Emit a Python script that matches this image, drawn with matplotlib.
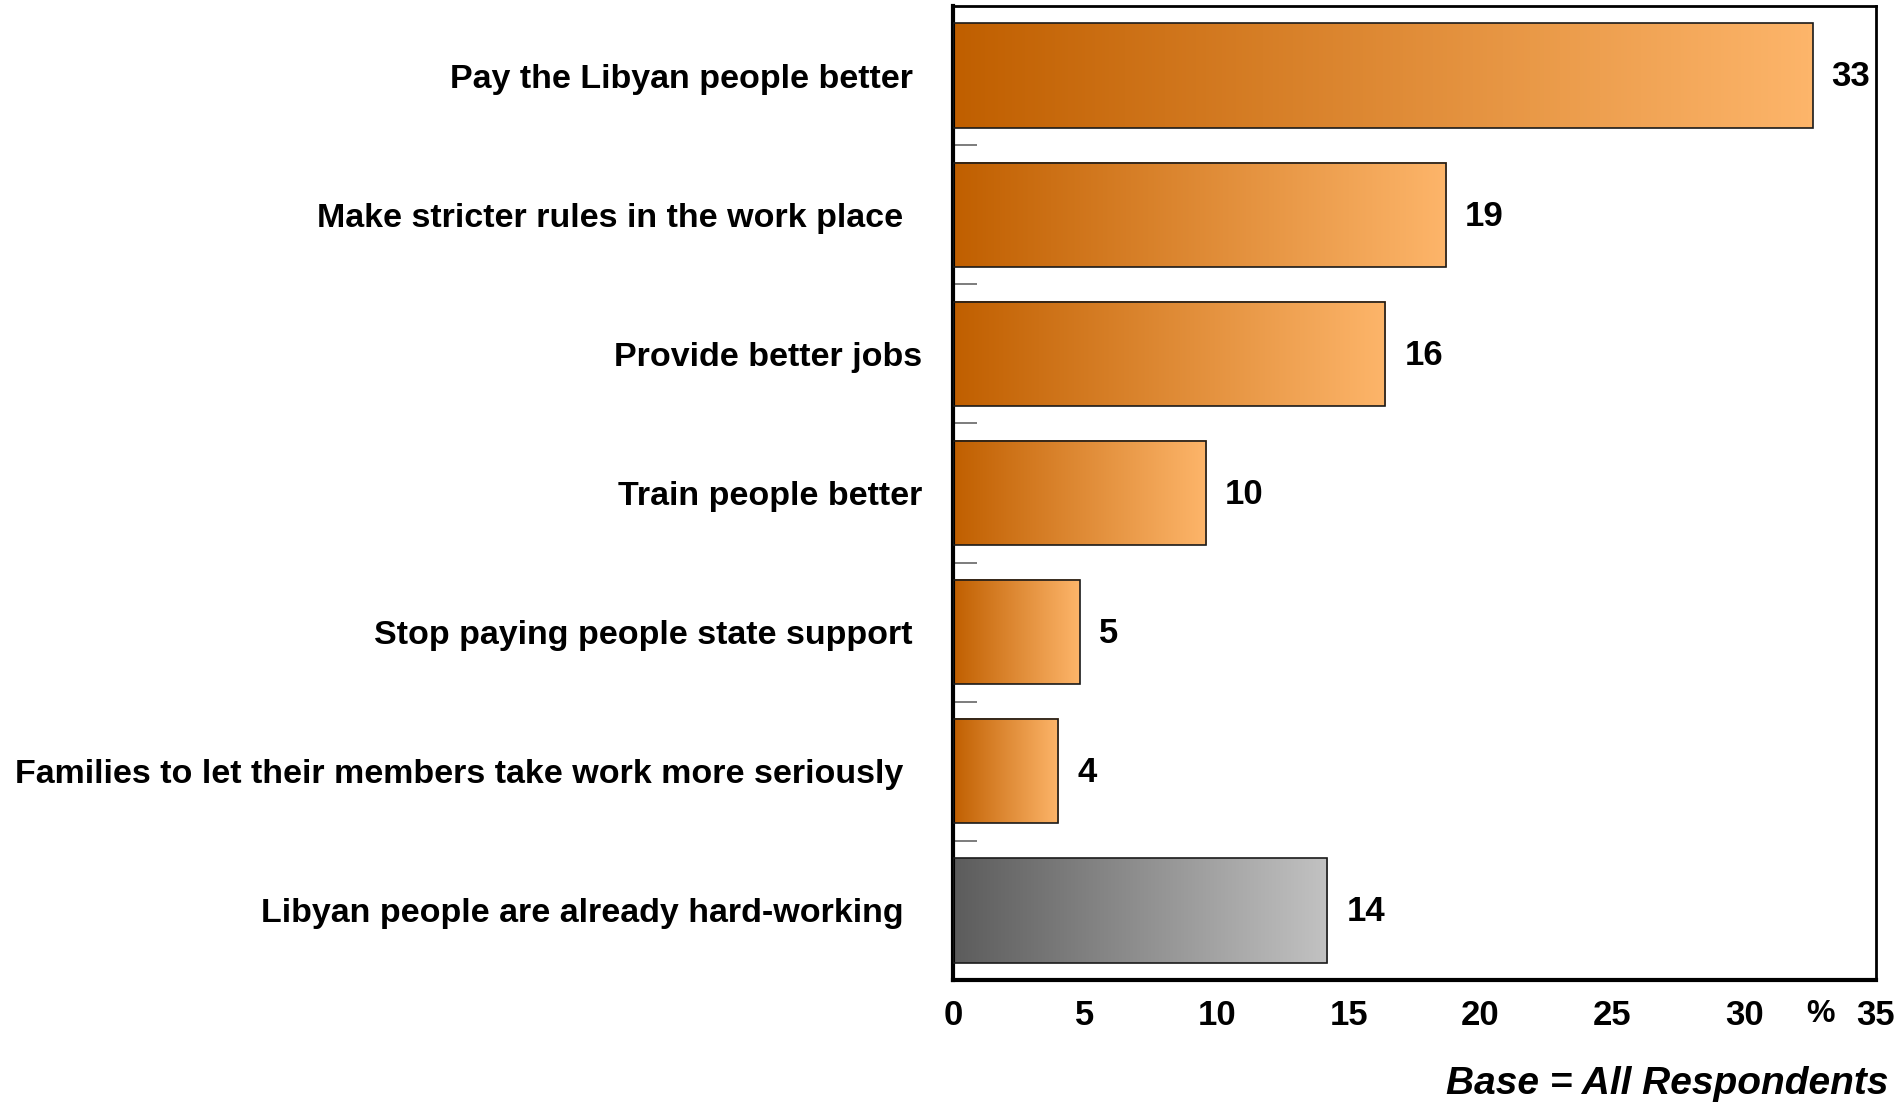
import numpy as np
import matplotlib
matplotlib.use("Agg")
import matplotlib.pyplot as plt
from matplotlib.colors import LinearSegmentedColormap

categories = [
    "Pay the Libyan people better ",
    "Make stricter rules in the work place  ",
    "Provide better jobs",
    "Train people better",
    "Stop paying people state support ",
    "Families to let their members take work more seriously  ",
    "Libyan people are already hard-working  ",
]
values = [32.6, 18.7, 16.4, 9.6, 4.8, 4.0, 14.2]
value_labels = ["33", "19", "16", "10", "5", "4", "14"]
bar_kind = ["orange", "orange", "orange", "orange", "orange", "orange", "gray"]
xticks = [0, 5, 10, 15, 20, 25, 30, 35]

plt.rcParams["font.family"] = ["Liberation Sans", "DejaVu Sans"]
plt.rcParams["font.weight"] = "bold"

cmaps = {
    "orange": LinearSegmentedColormap.from_list("o", ["#C05F00", "#FDB56A"]),
    "gray": LinearSegmentedColormap.from_list("g", ["#5C5C5C", "#C2C2C2"]),
}

fig = plt.figure(figsize=(18.99, 11.04), dpi=100)
ax = fig.add_axes([953 / 1899, 1 - 980 / 1104, (1876 - 953) / 1899, (980 - 6) / 1104])

y = np.arange(len(categories))
bars = ax.barh(y, values, height=0.75, facecolor="none", edgecolor="#1a1a1a",
               linewidth=1.2, zorder=3)

grad = np.linspace(0, 1, 256).reshape(1, -1)
for b, kind in zip(bars, bar_kind):
    x0, y0 = b.get_x(), b.get_y()
    w, h = b.get_width(), b.get_height()
    ax.imshow(grad, cmap=cmaps[kind], aspect="auto",
              extent=(x0, x0 + w, y0 + h, y0), zorder=2, interpolation="bilinear")

for b, lab in zip(bars, value_labels):
    ax.text(b.get_width() + 0.72, b.get_y() + b.get_height() / 2 + 0.01, lab,
            ha="left", va="center", fontsize=25, fontweight="bold")

ax.set_xlim(0, 35)
ax.set_ylim(len(categories) - 0.5, -0.5)
ax.set_xticks(xticks)
ax.set_xticklabels([str(t) for t in xticks], fontsize=25, fontweight="bold")
ax.tick_params(axis="x", length=0, pad=14)
ax.set_yticks(y)
ax.set_yticklabels(categories, fontsize=24.5, fontweight="bold")
ax.tick_params(axis="y", which="major", length=0, pad=22)
ax.set_yticks(np.arange(len(categories) - 1) + 0.5, minor=True)
ax.tick_params(axis="y", which="minor", direction="in", length=17, width=1.2,
               color="#666666")

for side in ["left", "bottom"]:
    ax.spines[side].set_linewidth(3)
for side in ["top", "right"]:
    ax.spines[side].set_linewidth(2)

ax.annotate("%", xy=(32.9, 0), xycoords=("data", "axes fraction"),
            xytext=(0, -14), textcoords="offset points", ha="center",
            va="top", fontsize=23, fontweight="bold")

fig.text(1889 / 1899, 1 - 1084 / 1104, "Base = All Respondents", ha="right",
         va="center", fontsize=28, fontweight="bold", style="italic")

fig.savefig("out.png", dpi=100)
